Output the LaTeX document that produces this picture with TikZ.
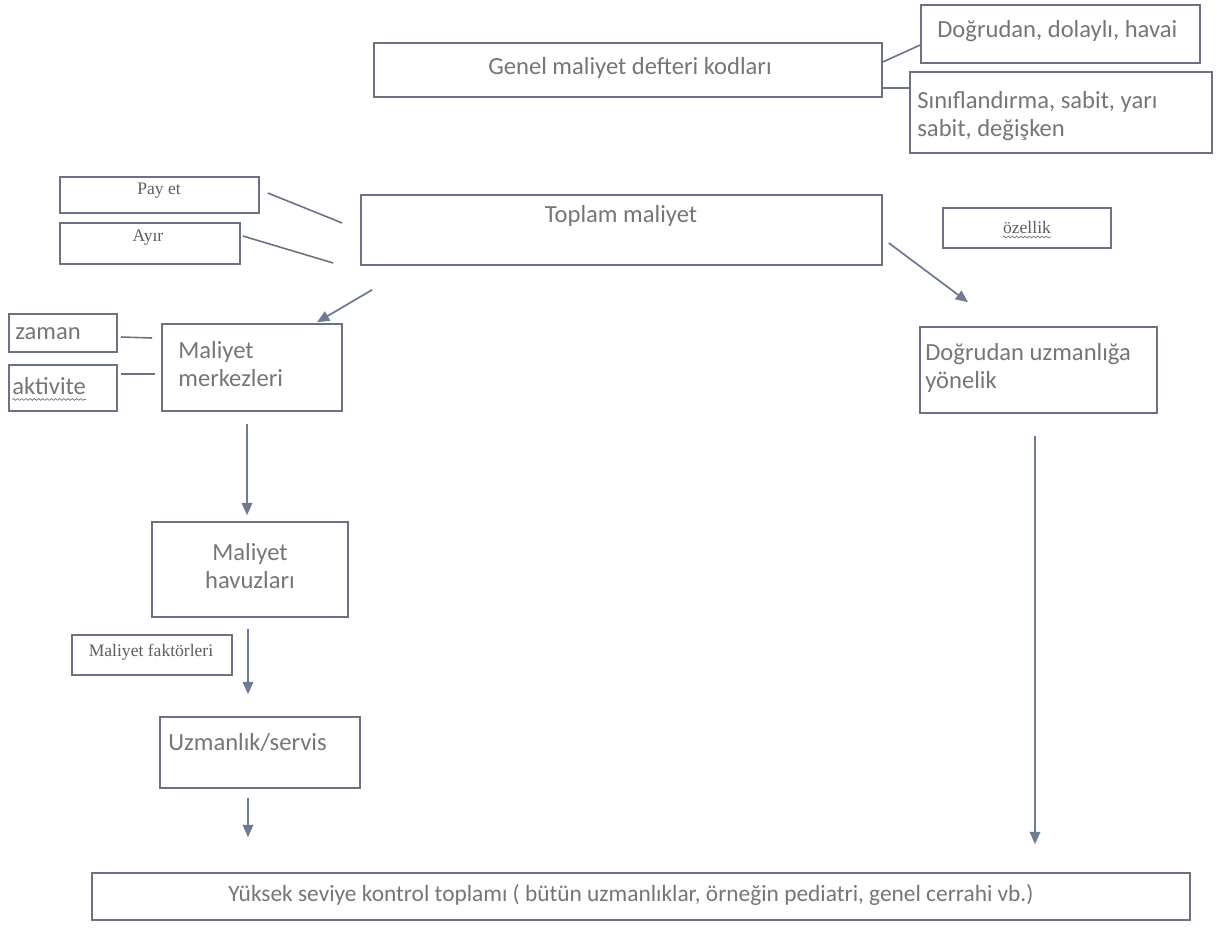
\documentclass[tikz,border=0pt]{standalone}
\usepackage{fontspec}
\setmainfont{Carlito}
\newfontfamily\timesf{Liberation Serif}
\usetikzlibrary{fit,arrows.meta,decorations.pathmorphing}
\definecolor{edge}{HTML}{6B7282}
\definecolor{ink}{HTML}{767676}
\definecolor{inkdark}{HTML}{5E5E5E}
\definecolor{arr}{HTML}{6E7C93}
\begin{document}
\begin{tikzpicture}[x=0.02cm,y=-0.02cm,
  box/.style={draw=edge, line width=0.9pt, inner sep=0pt},
  cal/.style={font=\fontsize{14}{15.5}\selectfont, text=ink, inner sep=0pt, align=left},
  tim/.style={font=\timesf\fontsize{10}{12}\selectfont, text=inkdark, inner sep=0pt},
  link/.style={draw=edge, line width=0.9pt},
  flow/.style={draw=arr, line width=1pt, -{Triangle[length=7pt,width=6pt]}},
  squiggle/.style={draw=ink, line width=0.4pt, decorate,
    decoration={snake, amplitude=0.5pt, segment length=2.4pt}}]

\fill[white] (0,0) rectangle (1221,933);
\useasboundingbox (0,0) rectangle (1221,933);

% ledger codes and their two categories
\node[box, fit={(374,43) (882,97)}] (genel) {};
\node[cal] (genelT) at (630,68) {Genel maliyet defteri kodları};
\node[box, fit={(921,5) (1200,63)}] (dolayli) {};
\node[cal, anchor=west] (dolayliT) at (937,31) {Doğrudan, dolaylı, havai};
\node[box, fit={(910,72) (1212,153)}] (sinif) {};
\node[cal, anchor=west] (sinifT) at (917,116) {Sınıflandırma, sabit, yarı\\sabit, değişken};

% total cost and its side labels
\node[box, fit={(361,195) (882,265)}] (toplam) {};
\node[cal] (toplamT) at (621,216) {Toplam maliyet};
\node[box, fit={(60,177) (259,213)}] (payet) {};
\node[tim] (payetT) at (159,191) {Pay et};
\node[box, fit={(60,223) (240,264)}] (ayir) {};
\node[tim] (ayirT) at (148,238) {Ayır};
\node[box, fit={(943,208) (1111,248)}] (ozellik) {};
\node[tim] (ozellikT) at (1027,227) {özellik};

% direct branch
\node[box, fit={(920,327) (1157,413)}] (dogu) {};
\node[cal, anchor=west] (doguT) at (925,368) {Doğrudan uzmanlığa\\yönelik};

% cost centre chain
\node[box, fit={(162,324) (342,411)}] (merkez) {};
\node[cal, anchor=west] (merkezT) at (178,364) {Maliyet\\merkezleri};
\node[box, fit={(9,314) (117,352)}] (zaman) {};
\node[cal, anchor=west] (zamanT) at (15,334) {zaman};
\node[box, fit={(9,365) (117,411)}] (aktivite) {};
\node[cal, anchor=west] (aktiviteT) at (12,386) {aktivite};

\node[box, fit={(152,522) (348,617)}] (havuz) {};
\node[cal, align=center] (havuzT) at (250,566) {Maliyet\\havuzları};
\node[box, fit={(72,635) (232,675)}] (faktor) {};
\node[tim] (faktorT) at (151,652) {Maliyet faktörleri};

\node[box, fit={(160,717) (360,788)}] (uzman) {};
\node[cal, anchor=west] (uzmanT) at (168,742) {Uzmanlık/servis};

\node[box, fit={(92,873) (1190,920)}] (yuksek) {};
\node[cal, font=\fontsize{13.3}{15}\selectfont] (yuksekT) at (631,895) {Yüksek seviye kontrol toplamı ( bütün uzmanlıklar, örneğin pediatri, genel cerrahi vb.)};

% plain connectors
\draw[link] ([shift={(0,-8)}]genel.east) -- ([shift={(0,11)}]dolayli.west);
\draw[link] ([shift={(0,18)}]genel.east) -- ([shift={(0,-24.5)}]sinif.west);
\draw[link] ([shift={(8,-2)}]payet.east) -- ([shift={(-18,-7)}]toplam.west);
\draw[link] ([shift={(2,-7.5)}]ayir.east) -- ([shift={(-27,33)}]toplam.west);
\draw[link] ([shift={(3,4)}]zaman.east) -- ([shift={(-9,-29.5)}]merkez.west);
\draw[link] ([shift={(3,-14)}]aktivite.east) -- ([shift={(-6,6.5)}]merkez.west);

% arrows
\draw[flow] ([shift={(12,24)}]toplam.south west) -- ([shift={(65,-1)}]merkez.north);
\draw[flow] ([shift={(6,13)}]toplam.east) -- ([shift={(-70.5,-24)}]dogu.north);
\draw[flow] ([shift={(-5,12)}]merkez.south) -- ([shift={(-3,-6)}]havuz.north);
\draw[flow] ([shift={(-2,11)}]havuz.south) -- ([shift={(-12,-22)}]uzman.north);
\draw[flow] ([shift={(-12,9)}]uzman.south) -- ([shift={(-393,-35)}]yuksek.north);
\draw[flow] ([shift={(-3.5,22)}]dogu.south) -- ([shift={(394,-28)}]yuksek.north);

% spell-check underlines
\draw[squiggle] ([shift={(0,5)}]aktiviteT.base west) -- ([shift={(0,5)}]aktiviteT.base east);
\draw[squiggle] ([shift={(0,4)}]ozellikT.base west) -- ([shift={(0,4)}]ozellikT.base east);
\end{tikzpicture}
\end{document}
